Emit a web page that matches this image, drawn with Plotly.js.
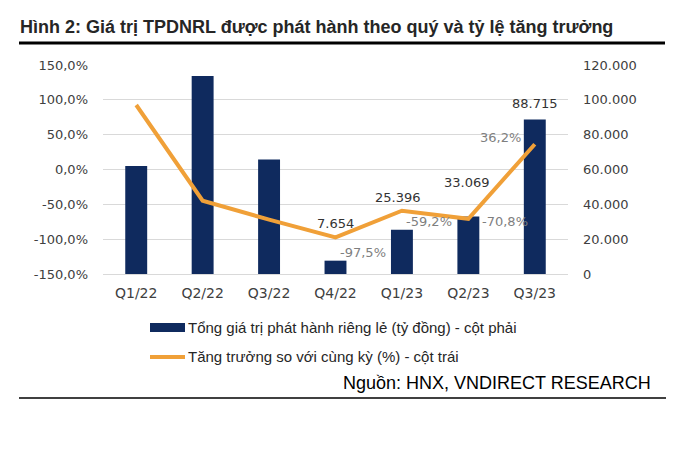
<!DOCTYPE html>
<html>
<head>
<meta charset="utf-8">
<script src="https://cdn.plot.ly/plotly-3.0.1.min.js"></script>
<style>
html,body{margin:0;padding:0;background:#fff;}
#chart{width:700px;height:459px;}
</style>
</head>
<body>
<div id="chart"></div>
<script>
// Data
var quarters = ["Q1/22","Q2/22","Q3/22","Q4/22","Q1/23","Q2/23","Q3/23"];
var issuance = [62000, 113700, 65800, 7654, 25396, 33069, 88715];   // tỷ đồng (right axis)
var growth = [92.6, -44.8, -72.0, -97.5, -59.2, -70.8, 36.2];        // % yoy (left axis)
var issuanceLabels = ["", "", "", "7.654", "25.396", "33.069", "88.715"];
var growthLabels = ["", "", "", "-97,5%", "-59,2%", "-70,8%", "36,2%"];
var leftTicks = [-150, -100, -50, 0, 50, 100, 150];
var leftTickText = ["-150,0%", "-100,0%", "-50,0%", "0,0%", "50,0%", "100,0%", "150,0%"];
var rightTicks = [0, 20000, 40000, 60000, 80000, 100000, 120000];
var rightTickText = ["0", "20.000", "40.000", "60.000", "80.000", "100.000", "120.000"];

var titleText = "Hình 2: Giá trị TPDNRL được phát hành theo quý và tỷ lệ tăng trưởng";
var legendBar = "Tổng giá trị phát hành riêng lẻ (tỷ đồng) - cột phải";
var legendLine = "Tăng trưởng so với cùng kỳ (%) - cột trái";
var sourceText = "Nguồn: HNX, VNDIRECT RESEARCH";

var navy = "#0F2A5E", orange = "#F0A038", grid = "#D9D9D9", tickCol = "#404040";
var arial = "Liberation Sans, Arial, sans-serif";
var dejavu = "DejaVu Sans, sans-serif";

var traces = [
  {type:"bar", x:quarters, y:issuance, yaxis:"y", marker:{color:navy},
   showlegend:false, hoverinfo:"x+y"},
  {type:"scatter", mode:"lines", x:quarters, y:growth, yaxis:"y2",
   line:{color:orange, width:4}, showlegend:false, hoverinfo:"x+y"}
];

var annotations = [];
var valuePos = {3:{ref:"y2", src:"g", dy:14, dx:0},
                4:{ref:"y2", src:"g", dy:13, dx:-4},
                5:{ref:"y",  src:"b", dy:34, dx:-1},
                6:{ref:"y",  src:"b", dy:16, dx:0}};
var pctPos = {3:{dx:27, dy:-15}, 4:{dx:27, dy:-11}, 5:{dx:37, dy:-3}, 6:{dx:-34, dy:7}};
for (var i = 0; i < quarters.length; i++) {
  if (issuanceLabels[i]) {
    var p = valuePos[i];
    annotations.push({x:quarters[i], y:(p.src === "g" ? growth[i] : issuance[i]), xref:"x", yref:p.ref,
      text:issuanceLabels[i], showarrow:false, xshift:p.dx, yshift:p.dy,
      font:{family:dejavu, size:13, color:"#333333"}});
  }
  if (growthLabels[i]) {
    var o = pctPos[i];
    annotations.push({x:quarters[i], y:growth[i], xref:"x", yref:"y2",
      text:growthLabels[i], showarrow:false, xshift:o.dx, yshift:o.dy,
      font:{family:dejavu, size:13, color:"#7F7F7F"}});
  }
}

function px(xp){return (xp-103)/465;}
function py(yp){return (274-yp)/209;}

annotations.push({xref:"paper", yref:"paper", x:px(18), y:py(27), xanchor:"left", yanchor:"middle",
  text:"<b>"+titleText+"</b>", showarrow:false,
  font:{family:arial, size:18, color:"#262626"}});
annotations.push({xref:"paper", yref:"paper", x:px(186), y:py(327), xanchor:"left", yanchor:"middle",
  text:legendBar, showarrow:false,
  font:{family:arial, size:15, color:"#262626"}});
annotations.push({xref:"paper", yref:"paper", x:px(186), y:py(356), xanchor:"left", yanchor:"middle",
  text:legendLine, showarrow:false,
  font:{family:arial, size:15, color:"#262626"}});
annotations.push({xref:"paper", yref:"paper", x:px(653), y:py(383), xanchor:"right", yanchor:"middle",
  text:sourceText, showarrow:false,
  font:{family:arial, size:18, color:"#000"}});

var shapes = [
  {type:"line", xref:"paper", yref:"paper", x0:px(19), x1:px(665), y0:py(43), y1:py(43), line:{color:"#000", width:3}},
  {type:"line", xref:"paper", yref:"paper", x0:px(19), x1:px(666), y0:py(398), y1:py(398), line:{color:"#000", width:1.5}},
  {type:"rect", xref:"paper", yref:"paper", x0:px(150), x1:px(185), y0:py(332), y1:py(323), fillcolor:navy, line:{width:0}},
  {type:"line", xref:"paper", yref:"paper", x0:px(150), x1:px(185), y0:py(357), y1:py(357), line:{color:orange, width:4}},
  {type:"line", xref:"paper", yref:"y2", x0:0, x1:1, y0:0, y1:0, layer:"below", line:{color:grid, width:1}}
];

var layout = {
  width:700, height:459,
  margin:{l:103, r:132, t:65, b:185, pad:0},
  paper_bgcolor:"#fff", plot_bgcolor:"#fff",
  bargap:0.67,
  showlegend:false,
  font:{family:dejavu, size:13, color:tickCol},
  xaxis:{type:"category", showgrid:false, showline:true, linecolor:grid, linewidth:1,
    ticks:"", tickfont:{family:dejavu, size:14, color:tickCol}, ticklabelstandoff:6, fixedrange:true},
  yaxis:{range:[0,120000], tickmode:"array", tickvals:rightTicks, ticktext:rightTickText, side:"right",
    showgrid:true, gridcolor:grid, gridwidth:1, zeroline:false, showline:false, ticks:"",
    tickfont:{family:dejavu, size:13, color:tickCol}, ticklabelstandoff:14, fixedrange:true},
  yaxis2:{range:[-150,150], tickmode:"array", tickvals:leftTicks, ticktext:leftTickText,
    overlaying:"y", side:"left",
    showgrid:false, zeroline:false, showline:false, ticks:"",
    tickfont:{family:dejavu, size:13, color:tickCol}, ticklabelstandoff:14, fixedrange:true},
  annotations:annotations,
  shapes:shapes
};

Plotly.newPlot("chart", traces, layout, {displayModeBar:false, staticPlot:true});
</script>
</body>
</html>
